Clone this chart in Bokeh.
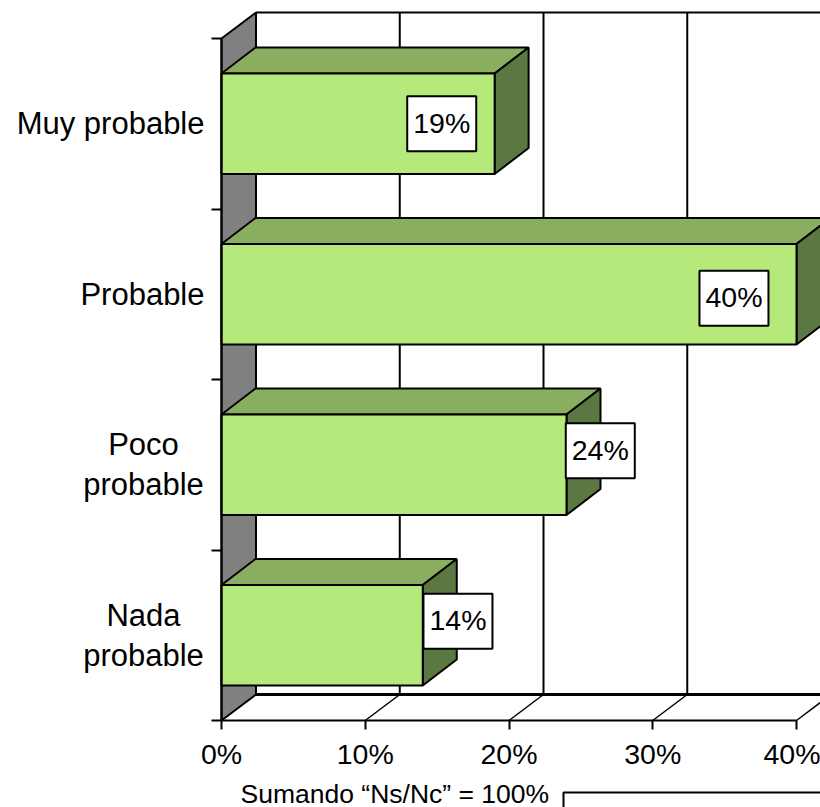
from bokeh.plotting import figure
from bokeh.models import Range1d, FixedTicker
from bokeh.embed import file_html
from bokeh.resources import INLINE
from bokeh.core.properties import value

categories = [["Nada", "probable"], ["Poco", "probable"], ["Probable"], ["Muy probable"]]
values = [14, 24, 40, 19]
value_labels = ["14%", "24%", "40%", "19%"]
x_ticks = [0, 10, 20, 30, 40]
y_ticks = [0, 1, 2, 3, 4]
label_dx = [2.45, 2.35, -4.35, -3.68]
label_dy = [0.082, 0.082, -0.023, 0.0]
note = "Sumando “Ns/Nc” = 100%"

FONT = "Liberation Sans"
PX_X = 14.375
PX_Y = 170.5
DX = 34.5 / PX_X
DY = 26 / PX_Y
BDX = 34 / PX_X
BAR_LO, BAR_HI = 0.205, 0.795
XMIN = -221 / PX_X
XMAX = 599 / PX_X
YMAX = 720 / PX_Y
YMIN = -87 / PX_Y

p = figure(frame_width=820, frame_height=807, min_border=0,
           x_range=Range1d(XMIN, XMAX), y_range=Range1d(YMIN, YMAX),
           output_backend="svg", toolbar_location=None, outline_line_color=None)
p.grid.visible = False

# x axis
ax = p.xaxis[0]
ax.fixed_location = 0
ax.ticker = FixedTicker(ticks=x_ticks)
ax.major_label_overrides = {t: f"{t}%" for t in x_ticks}
ax.bounds = (0, 40)
ax.axis_line_color = "black"; ax.axis_line_width = 2
ax.major_tick_line_color = "black"; ax.major_tick_line_width = 2
ax.major_tick_out = 9; ax.major_tick_in = 0
ax.minor_tick_line_color = None
ax.major_label_text_font = FONT; ax.major_label_text_font_size = "28.5px"
ax.major_label_text_color = "black"
ax.major_label_standoff = 8

# y axis: tick marks between categories, names drawn as centred text blocks below
ay = p.yaxis[0]
ay.fixed_location = 0
ay.ticker = FixedTicker(ticks=y_ticks)
ay.major_label_overrides = {t: "" for t in y_ticks}
ay.bounds = (0, 4)
ay.axis_line_color = "black"; ay.axis_line_width = 2
ay.major_tick_line_color = "black"; ay.major_tick_line_width = 2
ay.major_tick_out = 10; ay.major_tick_in = 0
ay.minor_tick_line_color = None

centres = [i + 0.5 for i in range(len(categories))]
single_x, single_y, single_t = [], [], []
multi_x, multi_y, multi_t = [], [], []
for c, lines in zip(centres, categories):
    if len(lines) == 1:
        single_x.append(-17 / PX_X); single_y.append(c); single_t.append(lines[0])
    else:
        for j, t in enumerate(lines):
            multi_x.append(-78 / PX_X)
            multi_y.append(c + (0.5 - j) * 40 / PX_Y)
            multi_t.append(t)
p.text(x=single_x, y=single_y, text=single_t, text_font=value(FONT), text_font_size="31px",
       text_align="right", text_baseline="middle", text_color="black")
p.text(x=multi_x, y=multi_y, text=multi_t, text_font=value(FONT), text_font_size="31px",
       text_align="center", text_baseline="middle", text_color="black")

# back wall (left side) and frame
p.patch([0, DX, DX, 0], [0, DY, 4 + DY, 4], fill_color="#808080",
        line_color="black", line_width=2)
p.segment(x0=[DX], y0=[DY], x1=[XMAX], y1=[DY], line_color="black", line_width=3)
p.segment(x0=[DX], y0=[4 + DY], x1=[XMAX], y1=[4 + DY], line_color="black", line_width=2)

# back grid lines and floor diagonals
gx = [t for t in x_ticks if t > 0]
p.segment(x0=[t + DX for t in gx], y0=[DY] * len(gx), x1=[t + DX for t in gx],
          y1=[4 + DY] * len(gx), line_color="black", line_width=2)
p.segment(x0=gx, y0=[0] * len(gx), x1=[t + DX for t in gx], y1=[DY] * len(gx),
          line_color="black", line_width=1.5)

# bars
for i, v in enumerate(values):
    lo, hi = i + BAR_LO, i + BAR_HI
    p.patch([0, BDX, v + BDX, v], [hi, hi + DY, hi + DY, hi], fill_color="#8AAE60",
            line_color="black", line_width=2)
    p.patch([v, v + BDX, v + BDX, v], [lo, lo + DY, hi + DY, hi], fill_color="#5B7842",
            line_color="black", line_width=2)
    p.quad(left=[0], right=[v], bottom=[lo], top=[hi], fill_color="#B6E97B",
           line_color="black", line_width=2)

# value boxes
cx = [v + o for v, o in zip(values, label_dx)]
cy = [c + o for c, o in zip(centres, label_dy)]
p.rect(x=cx, y=cy, width=69, height=55, width_units="screen", height_units="screen",
       fill_color="white", line_color="black", line_width=2)
p.text(x=cx, y=cy, text=value_labels, text_font=value(FONT), text_font_size="28.5px",
       text_align="center", text_baseline="middle", text_color="black", y_offset=-1)

# note below the axis
p.text(x=[19 / PX_X], y=[-73 / PX_Y], text=[note], text_font=value(FONT), text_font_size="26.5px",
       text_align="left", text_baseline="middle", text_color="black")
p.line(x=[342 / PX_X, 342 / PX_X, XMAX], y=[YMIN, -72 / PX_Y, -72 / PX_Y],
       line_color="black", line_width=2)

open("out.html", "w").write(file_html(p, INLINE))
